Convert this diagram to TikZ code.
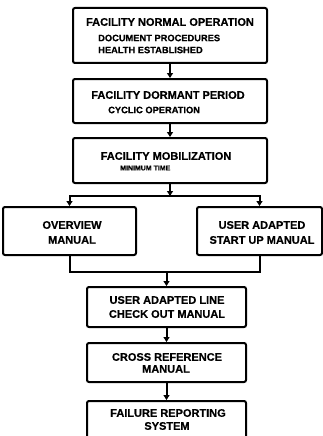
\documentclass[tikz,border=0pt]{standalone}
\usepackage{fontspec}
\setmainfont{Liberation Sans}[BoldFeatures={FakeBold=0.6}]
\usetikzlibrary{arrows.meta}
\begin{document}
\begin{tikzpicture}[x=1pt,y=-1pt,
  box/.style={draw, line width=2pt, rounded corners=2pt, inner sep=0pt},
  ttl/.style={font=\fontsize{11}{12}\selectfont\bfseries, inner sep=0pt},
  sub/.style={font=\fontsize{9.3}{10}\selectfont\bfseries, inner sep=0pt, anchor=west},
  small/.style={font=\fontsize{7}{8}\selectfont\bfseries, inner sep=0pt, anchor=west},
  conn/.style={line width=2pt},
  arr/.style={conn, -{Triangle[width=6pt,length=5pt]}}]
\useasboundingbox (0,0) rectangle (323,436);
\clip (0,0) rectangle (323,436);
% boxes
\node[box, minimum width=194pt, minimum height=55pt] (b1) at (170,35.5) {};
\node[box, minimum width=194pt, minimum height=44pt] (b2) at (170,101) {};
\node[box, minimum width=194pt, minimum height=45pt] (b3) at (170,160.5) {};
\node[box, minimum width=133pt, minimum height=48pt] (bl) at (69.5,231) {};
\node[box, minimum width=125pt, minimum height=48pt] (br) at (259.5,231) {};
\node[box, minimum width=159pt, minimum height=40pt] (b4) at (166.5,307) {};
\node[box, minimum width=159pt, minimum height=39pt] (b5) at (166.5,362.5) {};
\node[box, minimum width=159pt, minimum height=44pt] (b6) at (166.5,423) {};
% texts
\node[ttl] (t1) at (170,22) {FACILITY NORMAL OPERATION};
\node[sub] (t1a) at (98,38) {DOCUMENT PROCEDURES};
\node[sub] (t1b) at (98,50) {HEALTH ESTABLISHED};
\node[ttl] (t2) at (168,95) {FACILITY DORMANT PERIOD};
\node[sub] (t2a) at (108,110) {CYCLIC OPERATION};
\node[ttl] (t3) at (166,156) {FACILITY MOBILIZATION};
\node[small] (t3a) at (120,168) {MINIMUM TIME};
\node[ttl] (tl1) at (72,225) {OVERVIEW};
\node[ttl] (tl2) at (72,240) {MANUAL};
\node[ttl] (tr1) at (262,225) {USER ADAPTED};
\node[ttl] (tr2) at (262,240) {START UP MANUAL};
\node[ttl] (t4a) at (167,300) {USER ADAPTED LINE};
\node[ttl] (t4b) at (167,314) {CHECK OUT MANUAL};
\node[ttl] (t5a) at (167,357) {CROSS REFERENCE};
\node[ttl] (t5b) at (166,369) {MANUAL};
\node[ttl] (t6a) at (168,413) {FAILURE REPORTING};
\node[ttl] (t6b) at (167,426) {SYSTEM};
% connectors
\draw[arr] (b1.south) -- (b2.north);
\draw[arr] (b2.south) -- (b3.north);
\coordinate (split) at (170,196);
\draw[arr] (b3.south) -- (split);
\draw[arr] (split) -| (bl.north);
\draw[arr] (split) -| (br.north);
\coordinate (merge) at (166.5,272);
\draw[conn] (bl.south) |- (merge) -| (br.south);
\draw[arr] (merge) -- (b4.north);
\draw[arr] (b4.south) -- (b5.north);
\draw[arr] (b5.south) -- (b6.north);
\end{tikzpicture}
\end{document}
